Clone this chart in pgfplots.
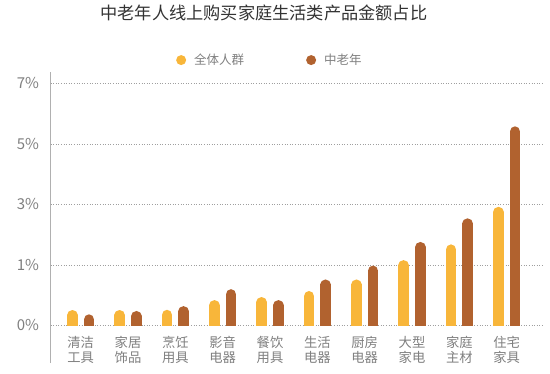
\documentclass[border=0pt]{standalone}
\usepackage{pgfplots}
\pgfplotsset{compat=1.18}
\usepackage{fontspec}
\setmainfont{Noto Sans CJK SC}
\definecolor{yel}{HTML}{F8B63A}
\definecolor{brn}{HTML}{B1622F}
\definecolor{txtg}{HTML}{7F7F7F}
\definecolor{ttl}{HTML}{333333}
\definecolor{axg}{HTML}{B0B0B0}
\begin{document}
\begin{tikzpicture}
\useasboundingbox (0,0) rectangle (550pt,373pt);
\begin{axis}[
  name=ax,
  at={(50.5pt,47.5pt)}, anchor=south west,
  scale only axis, width=492.5pt, height=253.5pt,
  xmin=-0.638, xmax=9.767, ymin=0, ymax=4.187,
  clip=true,
  axis line style={draw=none},
  major tick length=0pt,
  xtick={0,...,9},
  xticklabels={{清洁\\工具},{家居\\饰品},{烹饪\\用具},{影音\\电器},{餐饮\\用具},{生活\\电器},{厨房\\电器},{大型\\家电},{家庭\\主材},{住宅\\家具}},
  xticklabel style={align=center, font=\fontsize{13.3}{15.5}\selectfont, text=txtg, anchor=center, yshift=-24.5pt},
  ytick={0,1,2,3,4},
  yticklabels={0\%,1\%,3\%,5\%,7\%},
  yticklabel style={font=\fontsize{15}{17}\selectfont, text=txtg, anchor=east, xshift=-8pt},
  /pgf/number format/assume math mode=true,
  ymajorgrids,
  grid style={dash pattern=on 1pt off 1.6pt, color=gray!75, line width=0.6pt},
  title={中老年人线上购买家庭生活类产品金额占比},
  title style={at={(0.4335,1.211)}, anchor=center, font=\fontsize{17.2}{19}\selectfont, text=ttl},
  legend columns=2,
  legend image code/.code={\fill[#1] (0pt,0pt) circle (5pt); \path (11pt,0pt);},
  legend style={at={(0.4455,1.047)}, anchor=center, draw=none, fill=none,
    font=\fontsize{12.5}{14}\selectfont, text=txtg,
    /tikz/every even column/.append style={column sep=60pt}},
]
\addlegendimage{fill=yel, draw=none}
\addlegendentry{全体人群}
\addlegendimage{fill=brn, draw=none}
\addlegendentry{中老年}
\addplot[ycomb, draw=yel, line width=10.5pt, line cap=round, xshift=-8.3pt, yshift=-5.25pt, forget plot]
coordinates {(0,0.256) (1,0.256) (2,0.26) (3,0.42) (4,0.47) (5,0.57) (6,0.76) (7,1.08) (8,1.34) (9,1.96)};
\addplot[ycomb, draw=brn, line width=10.5pt, line cap=round, xshift=8.3pt, yshift=-5.25pt, forget plot]
coordinates {(0,0.185) (1,0.24) (2,0.32) (3,0.60) (4,0.42) (5,0.76) (6,0.99) (7,1.38) (8,1.77) (9,3.29)};
\end{axis}
\draw[axg, line width=0.9pt] ([yshift=-37.5pt]ax.south west) -- (ax.north west);
\end{tikzpicture}
\end{document}
